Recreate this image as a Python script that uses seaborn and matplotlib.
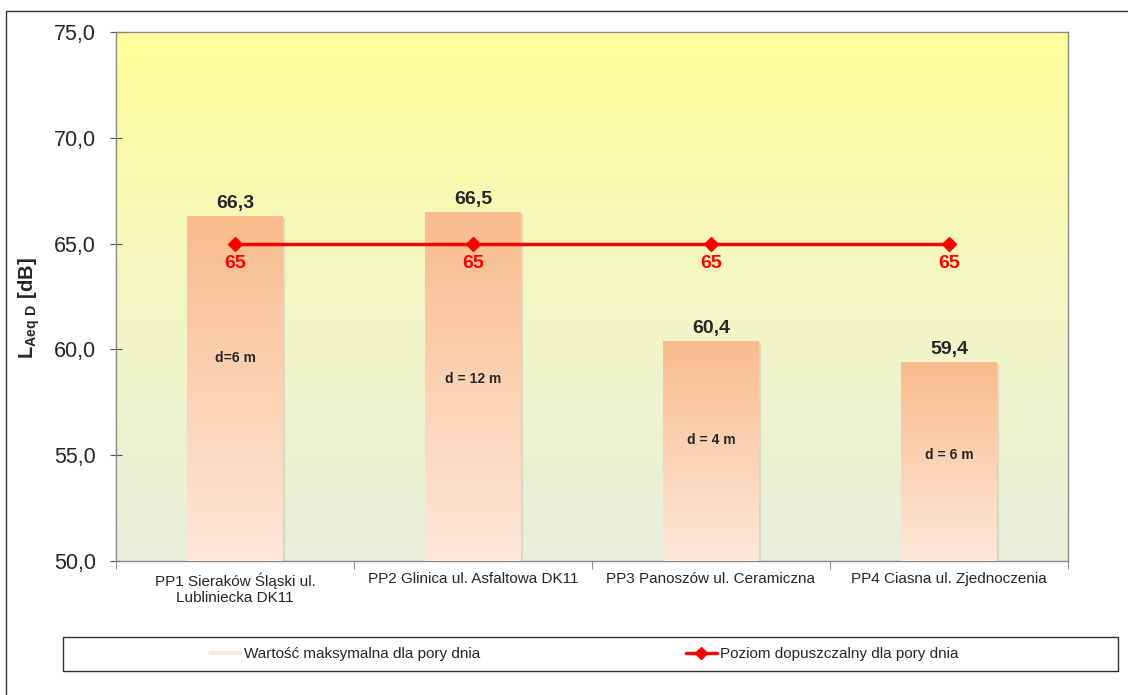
import matplotlib
matplotlib.use("Agg")
import matplotlib.pyplot as plt
import matplotlib.patches as mpatches
from matplotlib.lines import Line2D
from matplotlib.colors import LinearSegmentedColormap
from matplotlib.ticker import FuncFormatter
import numpy as np
import pandas as pd
import seaborn as sns

# dane z wykresu
points = ["PP1 Sieraków Śląski ul.\nLubliniecka DK11", "PP2 Glinica ul. Asfaltowa DK11",
          "PP3 Panoszów ul. Ceramiczna", "PP4 Ciasna ul. Zjednoczenia"]
max_day = [66.3, 66.5, 60.4, 59.4]
limit_day = [65, 65, 65, 65]
distances = ["d=6 m", "d = 12 m", "d = 4 m", "d = 6 m"]
distance_y = [59.6, 58.6, 55.7, 55.0]

sns.set_style("white")
plt.rcParams["font.family"] = ["Liberation Sans", "DejaVu Sans"]
plt.rcParams["mathtext.fontset"] = "custom"
plt.rcParams["mathtext.bf"] = "Liberation Sans:bold"
plt.rcParams["mathtext.rm"] = "Liberation Sans"

df = pd.DataFrame({"punkt": points, "wartosc": max_day})

fig = plt.figure(figsize=(11.28, 6.95), dpi=100)
ax = fig.add_axes([0.1028, 0.1928, 0.8440, 0.7612])

sns.barplot(data=df, x="punkt", y="wartosc", ax=ax, width=0.4, color="#f8bc8c",
            edgecolor="none", zorder=2)

# tło z gradientem
bg = LinearSegmentedColormap.from_list("bg", ["#e8eedc", "#f3f6c4", "#ffff99"])
grad = np.linspace(0, 1, 256).reshape(-1, 1)
ax.imshow(grad, cmap=bg, aspect="auto", origin="lower", extent=[-0.5, 3.5, 50, 75], zorder=0)

# słupki z gradientem
bar_cmap = LinearSegmentedColormap.from_list("bar", ["#fde8da", "#fbd2b4", "#f8bc8c"])
for p in ax.patches:
    x0, w, h = p.get_x(), p.get_width(), p.get_height()
    sh = mpatches.Rectangle((x0 + 0.012, 50), w, h - 50 - 0.1, facecolor="#b0b0a0",
                            alpha=0.35, zorder=1.5, edgecolor="none")
    ax.add_patch(sh)
    im = ax.imshow(grad, cmap=bar_cmap, aspect="auto", origin="lower",
                   extent=[x0, x0 + w, 50, h], zorder=3)
    im.set_clip_path(p)
    p.set_facecolor("none")
ax.set_xlim(-0.5, 3.5)
ax.set_ylim(50, 75)

# linia dopuszczalna
ax.plot(range(len(points)), limit_day, color="red", lw=2.5, marker="D", markersize=7, zorder=5)
for i, v in enumerate(limit_day):
    ax.annotate(f"{v}", (i, v), xytext=(0, -14.5), textcoords="offset points",
                ha="center", va="center", color="red", fontsize=14, fontweight="bold", zorder=6)
for i, v in enumerate(max_day):
    ax.annotate(f"{v:.1f}".replace(".", ","), (i, v), xytext=(0, 9), textcoords="offset points",
                ha="center", va="center", fontsize=14, fontweight="bold", zorder=6)
for i, (t, y) in enumerate(zip(distances, distance_y)):
    ax.text(i, y, t, ha="center", va="center", fontsize=10, fontweight="bold", zorder=6)

ax.yaxis.set_major_formatter(FuncFormatter(lambda v, _: f"{v:.1f}".replace(".", ",")))
ax.set_yticks([50, 55, 60, 65, 70, 75])
ax.tick_params(axis="y", labelsize=15.5, direction="inout", length=9, left=True, color="#555555", pad=10)
ax.set_xticks([-0.5, 0.5, 1.5, 2.5, 3.5], minor=True)
ax.set_xticks(range(len(points)))
ax.set_xticklabels(points, fontsize=11)
ax.tick_params(axis="x", which="major", length=0, pad=8)
ax.tick_params(axis="x", which="minor", length=6, direction="out", bottom=True, color="#777777")
ax.set_xlabel("")
ax.set_ylabel(r"$\mathbf{L_{Aeq\ D}\ [dB]}$", fontsize=14.5)
ax.yaxis.set_label_coords(-0.078, 0.478)
for s in ax.spines.values():
    s.set_color("#888888")
    s.set_linewidth(1)

# ramka całego wykresu
fig.add_artist(mpatches.Rectangle((6 / 1128, -0.05), 1.1, 1 - 11 / 695 + 0.05,
                                  transform=fig.transFigure, fill=False, edgecolor="#333333", lw=1))
# legenda
fig.add_artist(mpatches.Rectangle((63 / 1128, 24 / 695), 1055 / 1128, 34 / 695,
                                  transform=fig.transFigure, fill=False, edgecolor="#333333", lw=1))
handles = [Line2D([0], [0], color="#fce6d6", lw=3),
           Line2D([0], [0], color="red", lw=2.5, marker="D", markersize=6)]
fig.legend(handles, ["Wartość maksymalna dla pory dnia", "Poziom dopuszczalny dla pory dnia"],
           loc="center", bbox_to_anchor=(584 / 1128, 41 / 695), ncol=2, frameon=False,
           fontsize=11, columnspacing=13.5, handlelength=2.0, handletextpad=0.2)

fig.savefig("out.png", dpi=100)
